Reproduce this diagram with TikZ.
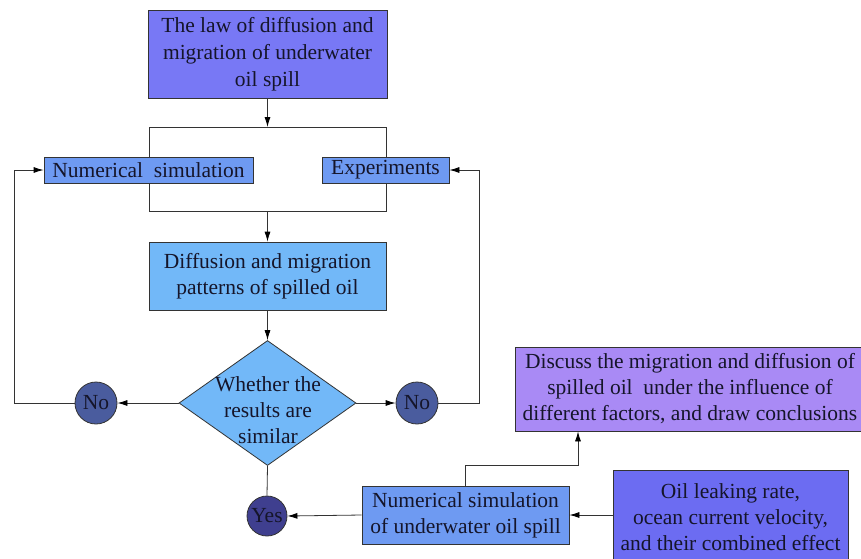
\documentclass[tikz,border=0pt]{standalone}
\usepackage{fontspec}
\setmainfont{Liberation Serif}
\usetikzlibrary{shapes.geometric,arrows.meta}
\definecolor{cTop}{HTML}{7878F5}
\definecolor{cNum}{HTML}{6E9AF2}
\definecolor{cDiff}{HTML}{72B8F8}
\definecolor{cNo}{HTML}{4A5C9E}
\definecolor{cYes}{HTML}{3F3F8F}
\definecolor{cDisc}{HTML}{A98AF5}
\definecolor{cOil}{HTML}{6C6CF2}
\definecolor{cLine}{HTML}{333333}
\definecolor{cText}{HTML}{15152A}
\tikzset{
  box/.style={draw=cLine, line width=0.8pt, inner sep=0pt, align=center, text=cText, font=\fontsize{21.5}{26}\selectfont},
  circ/.style={circle, draw=cLine, line width=0.8pt, inner sep=0pt, minimum size=42pt, text=cText, font=\fontsize{21.5}{24}\selectfont},
  arr/.style={draw=cLine, line width=0.8pt, -{Latex[length=10pt,width=6pt,color=black]}},
  ln/.style={draw=cLine, line width=0.8pt}
}
\begin{document}
\begin{tikzpicture}[x=1pt,y=-1pt]
\useasboundingbox (0,0) rectangle (861,558);
\clip (0,0) rectangle (861,558);
% bracket
\draw[ln] (149,127) rectangle (386,211);
\coordinate (bT) at (267.5,127);
\coordinate (bB) at (267.5,211);
% nodes
\node[box, fill=cTop, minimum width=239pt, minimum height=88pt, font=\fontsize{21.5}{27}\selectfont] (top) at (267.5,54) {The law of diffusion and\\migration of underwater\\oil spill};
\node[box, fill=cNum, minimum width=209pt, minimum height=26pt] (num) at (148.5,170) {Numerical\ \ simulation};
\node[box, fill=cNum, minimum width=127pt, minimum height=26pt] (exp) at (385.5,170) {Experiments};
\node[box, fill=cDiff, minimum width=237pt, minimum height=68pt] (diff) at (267.5,276) {Diffusion and migration\\patterns of spilled oil};
\node[diamond, draw=cLine, line width=0.8pt, fill=cDiff, minimum width=177pt, minimum height=125pt, inner sep=0pt] (dia) at (267.5,403) {};
\node[align=center, text=cText, font=\fontsize{21.5}{26}\selectfont] (diat) at (268,410) {Whether the\\results are\\similar};
\node[circ, fill=cNo] (noL) at (96,403) {No};
\node[circ, fill=cNo] (noR) at (417,403) {No};
\node[circ, fill=cYes, minimum size=40pt] (yes) at (267,516) {Yes};
\node[box, fill=cNum, minimum width=207pt, minimum height=58pt] (nsim) at (465.5,515) {Numerical simulation\\of underwater oil spill};
\node[box, fill=cOil, minimum width=235pt, minimum height=94pt] (oil) at (730.5,517) {Oil leaking rate,\\ocean current velocity,\\and their combined effect};
\node[box, fill=cDisc, minimum width=350pt, minimum height=84pt] (disc) at (690,389) {Discuss the migration and diffusion of\\spilled oil\ \ under the influence of\\different factors, and draw conclusions};
% connectors
\draw[arr] (top.south) -- (bT);
\draw[arr] (bB) -- (diff.north);
\draw[arr] (diff.south) -- (dia.north);
\draw[arr] (dia.west) -- (noL.east);
\draw[arr] (dia.east) -- (noR.west);
\draw[ln] (dia.south) -- (yes.north);
\coordinate (lL) at (14,403);
\coordinate (lR) at (479,403);
\draw[arr] (noL.west) -- (lL) |- (num.west);
\draw[arr] (noR.east) -- (lR) |- (exp.east);
\draw[arr] (nsim.west) -- (yes.east);
\draw[arr] (oil.west |- nsim.east) -- (nsim.east);
\coordinate (up1) at (465,465);
\coordinate (up2) at (578,465);
\draw[arr] (nsim.north -| up1) -- (up1) -- (up2) -- (up2 |- disc.south);
\end{tikzpicture}
\end{document}
